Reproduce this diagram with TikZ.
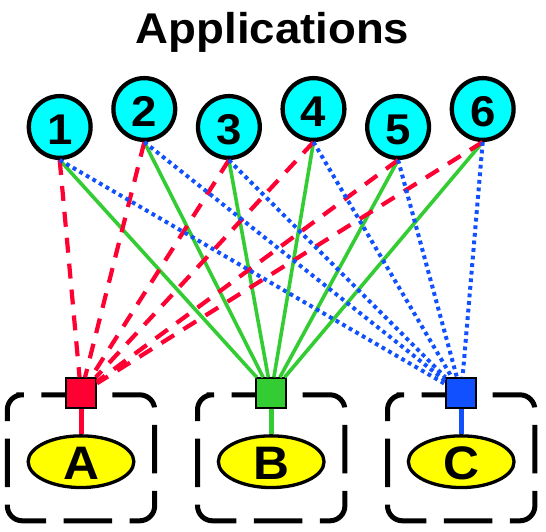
\documentclass[tikz,border=0pt]{standalone}
\usepackage{fontspec}
\setmainfont{Liberation Sans}[FakeStretch=1.06]
\usetikzlibrary{shapes.geometric}
\definecolor{cRed}{RGB}{255,0,51}
\definecolor{cGreen}{RGB}{51,204,51}
\definecolor{cBlue}{RGB}{16,80,255}
\definecolor{cCyan}{RGB}{0,255,255}
\definecolor{cYellow}{RGB}{255,255,0}
\begin{document}
\begin{tikzpicture}[x=1pt,y=-1pt,
  appnode/.style={circle,draw=black,line width=4.3pt,fill=cCyan,minimum size=61.8pt,inner sep=0pt,
    font=\fontsize{43}{50}\selectfont\bfseries,text height=35pt,text depth=0pt},
  portbox/.style={rectangle,draw=black,line width=2pt,minimum size=30pt,inner sep=0pt},
  hostnode/.style={ellipse,draw=black,line width=3.3pt,fill=cYellow,minimum width=105.7pt,minimum height=51.7pt,inner sep=0pt,
    font=\fontsize{47}{54}\selectfont\bfseries,text height=36.3pt,text depth=0pt},
  hostframe/.style={draw=black,line width=5pt,dash pattern=on 48.5pt off 17.5pt,rounded corners=15pt},
  redline/.style={cRed,line width=4.2pt,dash pattern=on 15pt off 11pt},
  greenline/.style={cGreen,line width=3.6pt},
  blueline/.style={cBlue,line width=4pt,dash pattern=on 3.8pt off 3.8pt},
  stem/.style={line width=5pt}
]
\useasboundingbox (0,0) rectangle (546,531);
\node[font=\fontsize{43}{50}\selectfont\bfseries,anchor=base,inner sep=0pt] (title) at (272.5,43) {Applications};
% frames
\foreach \cx in {81,271.2,461.2}{
  \draw[hostframe] (\cx-49.7,394.8) -- (\cx+73.7,394.8) -- (\cx+73.7,520.8) -- (\cx-73.7,520.8) -- (\cx-73.7,394.8) -- cycle;
}
% application circles
\node[appnode] (c1) at (59.7,127) {1};
\node[appnode] (c2) at (144.3,109) {2};
\node[appnode] (c3) at (228.9,127) {3};
\node[appnode] (c4) at (313.5,109) {4};
\node[appnode] (c5) at (398.1,127) {5};
\node[appnode] (c6) at (482.7,109) {6};
% hosts
\node[hostnode] (eA) at (81,461.7) {A};
\node[hostnode] (eB) at (271.2,461.7) {B};
\node[hostnode] (eC) at (461.2,461.7) {C};
\node[portbox,fill=cRed] (sA) at (81,393.3) {};
\node[portbox,fill=cGreen] (sB) at (271.2,393.3) {};
\node[portbox,fill=cBlue] (sC) at (461.2,393.3) {};
\draw[stem,cRed] (sA) -- (eA);
\draw[stem,cGreen] (sB) -- (eB);
\draw[stem,cBlue] (sC) -- (eC);
% connectors
\foreach \i in {1,...,6}{ \draw[greenline] (c\i.south) -- (sB); }
\foreach \i in {1,...,6}{ \draw[redline] (c\i.south) -- (sA); }
\foreach \i in {1,...,6}{ \draw[blueline] (c\i.south) -- (sC); }
\end{tikzpicture}
\end{document}
